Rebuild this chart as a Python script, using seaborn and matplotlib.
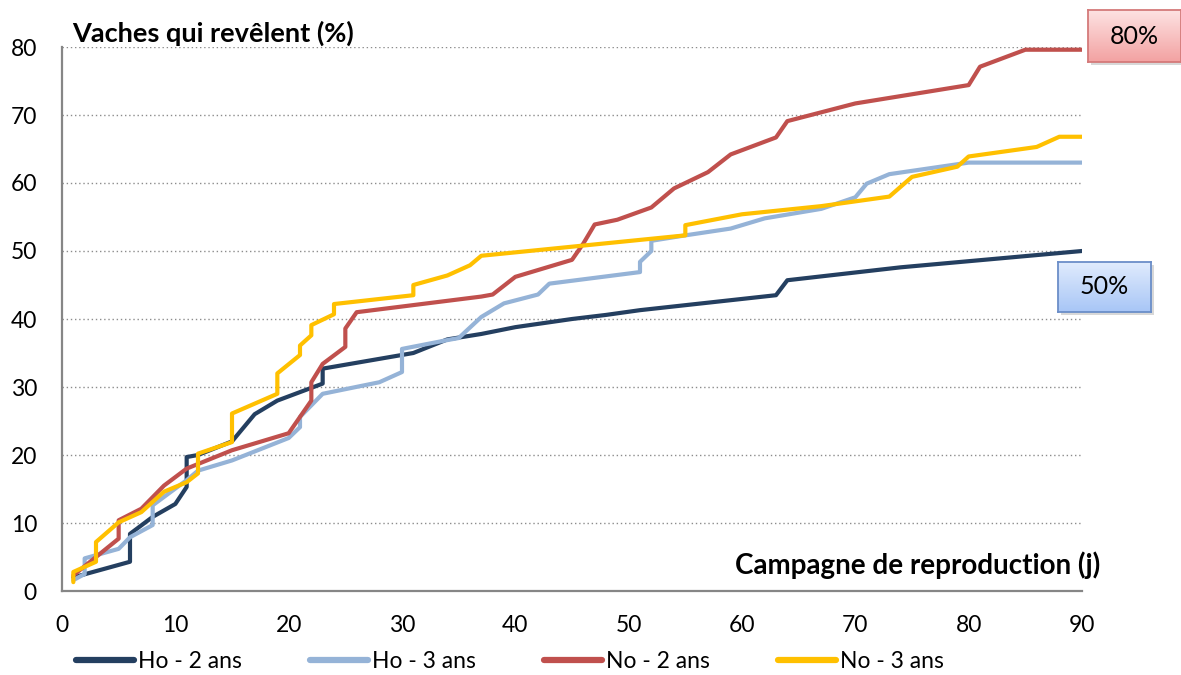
import matplotlib
matplotlib.use('Agg')
import matplotlib.pyplot as plt
import seaborn as sns
import pandas as pd
import numpy as np
from matplotlib.colors import LinearSegmentedColormap
from matplotlib.patches import Rectangle

# series names and colours
series = ['Ho - 2 ans', 'Ho - 3 ans', 'No - 2 ans', 'No - 3 ans']
colors = ['#243f60', '#95b3d7', '#c0504d', '#ffc000']

# values (day of campaign, % of cows calved)
ho2_x = [1, 6, 6, 8, 10, 11, 11, 12, 15, 17, 19, 23, 23, 31, 34, 37, 40, 45, 48, 51, 63, 64, 74, 90]
ho2_y = [2, 4.3, 8.4, 10.9, 12.8, 15.3, 19.7, 20, 22, 26, 28, 30.5, 32.7, 35, 37, 37.8, 38.8, 40,
         40.6, 41.3, 43.5, 45.7, 47.6, 50]

ho3_x = [1, 2, 2, 5, 6, 8, 8, 11, 12, 15, 20, 21, 21, 23, 28, 30, 30, 34, 35, 37, 39, 42, 43, 51,
         51, 52, 52, 55, 59, 62, 67, 70, 71, 73, 80, 90]
ho3_y = [1.6, 2.5, 4.8, 6.2, 7.9, 9.7, 12.6, 16.3, 17.7, 19.2, 22.5, 24.1, 25.6, 29, 30.7, 32.2,
         35.6, 36.9, 37.2, 40.3, 42.3, 43.6, 45.2, 46.9, 48.4, 50, 51.5, 52.3, 53.3, 54.8, 56.2,
         57.9, 59.9, 61.3, 63, 63]

no2_x = [1, 5, 5, 7, 9, 11, 15, 20, 22, 22, 23, 25, 25, 26, 37, 38, 40, 45, 46, 47, 49, 52, 54,
         57, 59, 63, 64, 70, 80, 81, 85, 90]
no2_y = [2.3, 7.7, 10.4, 12.1, 15.5, 18, 20.7, 23.2, 28, 30.7, 33.4, 35.9, 38.6, 41, 43.3, 43.6,
         46.2, 48.7, 51.1, 53.9, 54.6, 56.4, 59.2, 61.6, 64.2, 66.7, 69.1, 71.7, 74.4, 77.1, 79.6,
         79.6]

no3_x = [1, 1, 3, 3, 5, 7, 9, 11, 12, 12, 15, 15, 19, 19, 21, 21, 22, 22, 24, 24, 31, 31, 34, 36,
         37, 55, 55, 60, 67, 73, 75, 79, 80, 86, 88, 90]
no3_y = [1.3, 2.8, 4.3, 7.2, 10.1, 11.6, 14.6, 16, 17.3, 20.2, 21.9, 26.1, 29, 32, 34.7, 36.1,
         37.6, 39.1, 40.7, 42.2, 43.5, 45, 46.4, 47.9, 49.3, 52.3, 53.8, 55.4, 56.6, 58, 60.9,
         62.4, 63.9, 65.3, 66.8, 66.8]

xticks = list(range(0, 91, 10))
yticks = list(range(0, 81, 10))

frames = []
for name, xs, ys in zip(series, [ho2_x, ho3_x, no2_x, no3_x], [ho2_y, ho3_y, no2_y, no3_y]):
    frames.append(pd.DataFrame({'jour': xs, 'pct': ys, 'groupe': name}))
df = pd.concat(frames, ignore_index=True)

sns.set_style('white')
plt.rcParams['font.family'] = ['Lato', 'DejaVu Sans']
plt.rcParams['text.color'] = 'black'

W, H = 1181, 675
fig = plt.figure(figsize=(W / 100, H / 100), dpi=100)
ax = fig.add_axes([62 / W, 84 / H, 1020 / W, 544 / H])

sns.lineplot(data=df, x='jour', y='pct', hue='groupe', palette=colors,
             sort=False, estimator=None, linewidth=3.0, ax=ax)

ax.set_xlim(0, 90)
ax.set_ylim(0, 80)
ax.set_xticks(xticks)
ax.set_yticks(yticks)
ax.set_xlabel('')
ax.set_ylabel('')
ax.grid(axis='y', color='#8c8c8c', lw=1, ls=(0, (1, 2)))
ax.set_axisbelow(True)

for s in ['top', 'right']:
    ax.spines[s].set_visible(False)
for s in ['left', 'bottom']:
    ax.spines[s].set_color('#868686')
    ax.spines[s].set_linewidth(1.6)
ax.tick_params(axis='both', direction='out', length=6, width=1.2, color='#868686',
               labelsize=16.5, labelcolor='black')
ax.tick_params(axis='x', pad=11)
ax.tick_params(axis='y', pad=12)

ax.text(0.01, 1.026, 'Vaches qui revêlent (%)', transform=ax.transAxes, color='black',
        fontsize=19.5, fontweight='bold', ha='left', va='center')
ax.text(1.0176, 0.048, 'Campagne de reproduction (j)', transform=ax.transAxes, color='black',
        fontsize=20, fontweight='bold', ha='right', va='center')

# legend at the bottom of the figure
handles, labels = ax.get_legend_handles_labels()
ax.get_legend().remove()
leg = fig.legend(handles, labels, loc='center', bbox_to_anchor=(510 / W, 1 - 662 / H),
                 ncol=4, frameon=False, handlelength=2.5, handletextpad=0.18,
                 columnspacing=3.0, fontsize=16.5, borderpad=0, borderaxespad=0)
for h in leg.get_lines():
    h.set_linewidth(4.5)
    h.set_solid_capstyle('round')
for t in leg.get_texts():
    t.set_color('black')


# value boxes with a vertical gradient and a soft shadow
def value_box(x0, y0, x1, y1, text, top, bottom, edge):
    fig.patches.append(Rectangle(((x0 + 3) / W, 1 - (y1 + 3) / H), (x1 - x0) / W, (y1 - y0) / H,
                                 transform=fig.transFigure, fc='#bfbfbf', ec='none',
                                 alpha=0.6, zorder=5))
    bax = fig.add_axes([x0 / W, 1 - y1 / H, (x1 - x0) / W, (y1 - y0) / H], zorder=6)
    cmap = LinearSegmentedColormap.from_list('g', [bottom, top])
    bax.imshow(np.linspace(0, 1, 64).reshape(-1, 1), cmap=cmap, aspect='auto',
               extent=[0, 1, 0, 1], origin='lower')
    bax.set_xticks([])
    bax.set_yticks([])
    for sp in bax.spines.values():
        sp.set_color(edge)
        sp.set_linewidth(1.3)
    bax.text(0.5, 0.5, text, ha='center', va='center', fontsize=18, color='black',
             transform=bax.transAxes)


value_box(1088, 10, 1181, 62, '80%', '#fde2e2', '#f3a2a2', '#d47a7a')
value_box(1058, 262, 1151, 312, '50%', '#e0ebfd', '#a8c6f6', '#6b8ec8')

fig.savefig('out.png', dpi=100)
